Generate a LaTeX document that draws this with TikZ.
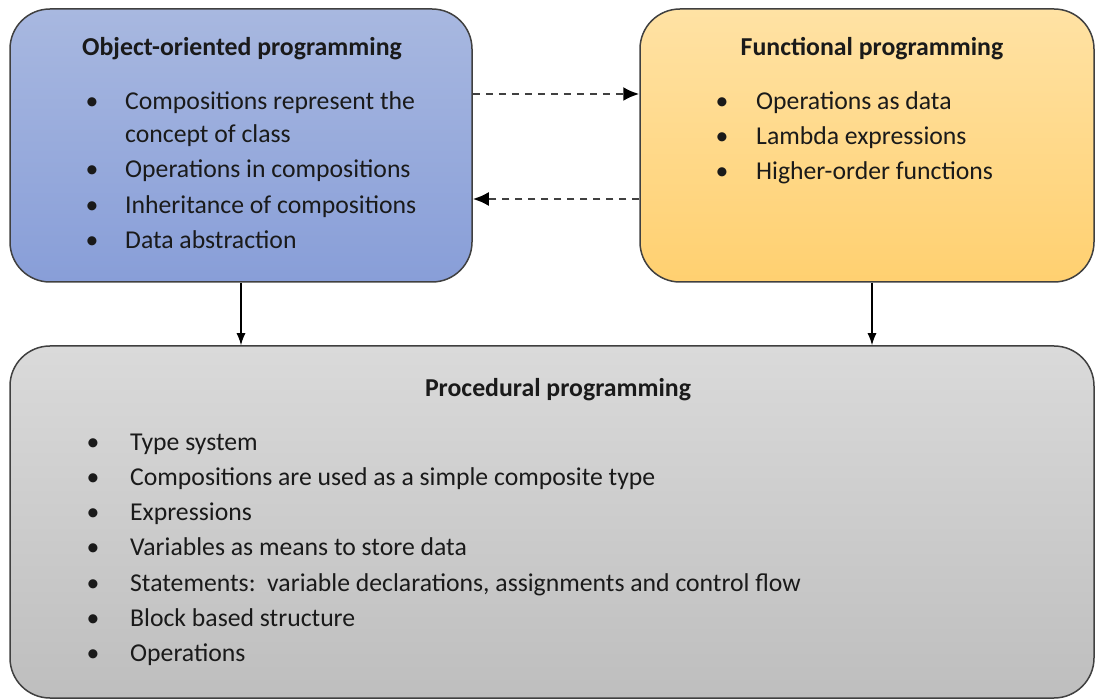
\documentclass[tikz,border=0pt]{standalone}
\usepackage{fontspec}
\setmainfont{Carlito}
\usetikzlibrary{arrows.meta,calc}
\definecolor{txt}{HTML}{1A1A1A}
\definecolor{edge}{HTML}{404040}
\tikzset{
  box/.style={draw=edge, line width=1.5pt, rounded corners=40pt, inner sep=0pt},
  oopfill/.style={top color={rgb,255:red,168;green,184;blue,224}, bottom color={rgb,255:red,136;green,158;blue,216}},
  fpfill/.style={top color={rgb,255:red,255;green,226;blue,164}, bottom color={rgb,255:red,255;green,208;blue,112}},
  procfill/.style={top color={rgb,255:red,218;green,218;blue,218}, bottom color={rgb,255:red,190;green,190;blue,190}},
  title/.style={font=\fontsize{25.8}{30}\selectfont\bfseries, text=txt, anchor=base},
  item/.style={font=\fontsize{25.7}{30}\selectfont, text=txt, anchor=base west, inner sep=0pt},
  bul/.style={font=\fontsize{25.7}{30}\selectfont, text=txt, anchor=base, inner sep=0pt},
  dasharrow/.style={draw=edge, line width=2.4pt, dash pattern=on 7pt off 6pt, -{Latex[length=16pt,width=14pt,color=black]}},
  solidarrow/.style={draw=black, line width=1.3pt, -{Latex[length=12pt,width=9pt]}}
}
\begin{document}
\begin{tikzpicture}[x=1pt,y=-1pt]
\useasboundingbox (0,0) rectangle (1096,700);
\node[box, oopfill, minimum width=462pt, minimum height=273pt] (oop) at (241,145.5) {};
\node[box, fpfill, minimum width=454pt, minimum height=273pt] (fp) at (867,145.5) {};
\node[box, procfill, minimum width=1084pt, minimum height=352pt] (proc) at (552,522) {};

\node[title] (ooptitle) at (242,56) {Object-oriented programming};
\node[bul] (ob1) at (92,110) {•};
\node[item] (oi1) at (125,110) {Compositions represent the};
\node[item] (oi1b) at (125,143) {concept of class};
\node[bul] (ob2) at (92,178) {•};
\node[item] (oi2) at (125,178) {Operations in compositions};
\node[bul] (ob3) at (92,214) {•};
\node[item] (oi3) at (125,214) {Inheritance of compositions};
\node[bul] (ob4) at (92,249) {•};
\node[item] (oi4) at (125,249) {Data abstraction};

\node[title] (fptitle) at (872,56) {Functional programming};
\node[bul] (fb1) at (722,110) {•};
\node[item] (fi1) at (756,110) {Operations as data};
\node[bul] (fb2) at (722,145) {•};
\node[item] (fi2) at (756,145) {Lambda expressions};
\node[bul] (fb3) at (722,180) {•};
\node[item] (fi3) at (756,180) {Higher-order functions};

\node[title] (proctitle) at (558,397) {Procedural programming};
\node[bul] (pb1) at (93,451) {•};
\node[item] (pi1) at (130,451) {Type system};
\node[bul] (pb2) at (93,486) {•};
\node[item] (pi2) at (130,486) {Compositions are used as a simple composite type};
\node[bul] (pb3) at (93,521) {•};
\node[item] (pi3) at (130,521) {Expressions};
\node[bul] (pb4) at (93,556) {•};
\node[item] (pi4) at (130,556) {Variables as means to store data};
\node[bul] (pb5) at (93,591) {•};
\node[item] (pi5) at (130,591) {Statements:\ \ variable declarations, assignments and control flow};
\node[bul] (pb6) at (93,626) {•};
\node[item] (pi6) at (130,626) {Block based structure};
\node[bul] (pb7) at (93,661) {•};
\node[item] (pi7) at (130,661) {Operations};

\draw[dasharrow] ([yshift=51.5pt]oop.east) -- ([yshift=51.5pt]oop.east -| fp.west);
\draw[dasharrow] ([yshift=-53.5pt]fp.west) -- ([yshift=-53.5pt]fp.west -| oop.east);
\draw[solidarrow] (oop.south) -- (oop.south |- proc.north);
\draw[solidarrow] ([xshift=5pt]fp.south) -- ([xshift=5pt]fp.south |- proc.north);
\end{tikzpicture}
\end{document}
